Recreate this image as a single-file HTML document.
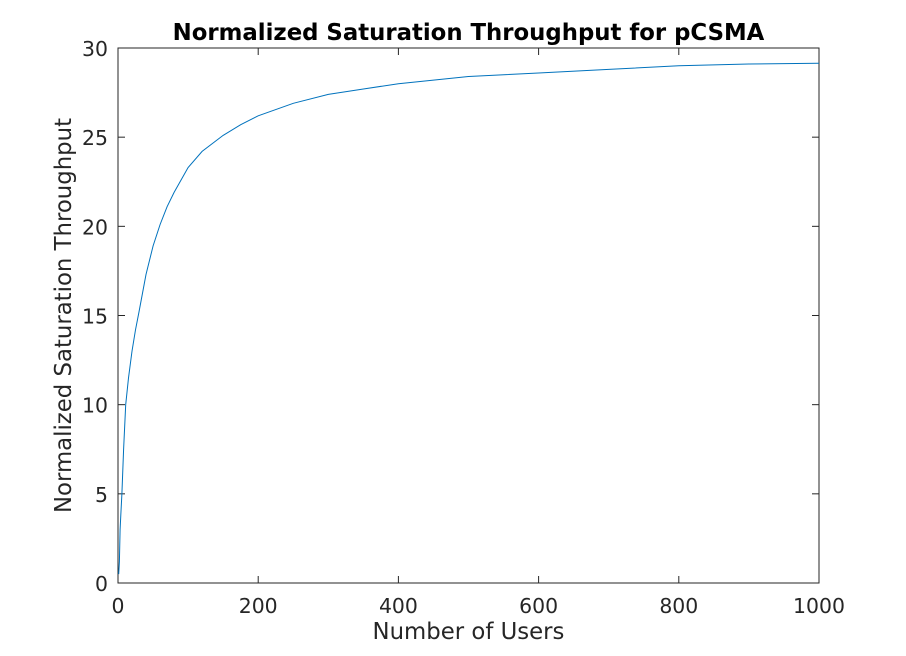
<!DOCTYPE html>
<html><head><meta charset="utf-8"><style>
html,body{margin:0;padding:0;background:#fff;}
svg{display:block;font-family:"DejaVu Sans","Liberation Sans",sans-serif;}
</style></head><body>
<svg id="chart" width="906" height="656">
<rect x="0" y="0" width="906" height="656" fill="#fff"/>
<g id="plot"></g>
</svg>
<script>
const xs = [1,2,3,4,5.5,8,11,15,20,25,30,40,50,60,70,80,100,120,150,175,200,250,300,350,400,500,600,700,800,900,1000];
const ys = [0.5,1.2,3.0,3.8,5.0,7.5,10.0,11.5,13.0,14.2,15.2,17.3,18.9,20.1,21.1,21.9,23.3,24.2,25.1,25.7,26.2,26.9,27.4,27.7,28.0,28.4,28.6,28.8,29.0,29.1,29.15];
const xTicks = [0,200,400,600,800,1000];
const yTicks = [0,5,10,15,20,25,30];
const L=118,R=819,T=48,B=583;
const sx=v=>L+(v-0)/(1000)*(R-L);
const sy=v=>B-(v-0)/30*(B-T);
const NS='http://www.w3.org/2000/svg';
const g=document.getElementById('plot');
function mk(tag,at){const e=document.createElementNS(NS,tag);for(const k in at)e.setAttribute(k,at[k]);g.appendChild(e);return e;}
const bg=mk('rect',{x:L,y:T,width:R-L,height:B-T,fill:'#fff'});


const c='#262626';
xTicks.forEach(t=>{
  const x=sx(t);
  const a=mk('line',{x1:x,y1:B,x2:x,y2:B-7,stroke:c,'stroke-width':1});
  
  
  const b=mk('line',{x1:x,y1:T,x2:x,y2:T+7,stroke:c,'stroke-width':1});
  
  
  const tx=mk('text',{x:x,y:B+30,'text-anchor':'middle','font-size':20.4,fill:c});
  tx.textContent=t;
  
  
});
yTicks.forEach(t=>{
  const y=sy(t);
  const a=mk('line',{x1:L,y1:y,x2:L+7,y2:y,stroke:c,'stroke-width':1});
  
  
  const b=mk('line',{x1:R,y1:y,x2:R-7,y2:y,stroke:c,'stroke-width':1});
  
  
  const tx=mk('text',{x:L-10,y:y+8,'text-anchor':'end','font-size':20.4,fill:c});
  tx.textContent=t;
  
  
});
const box=mk('rect',{x:L,y:T,width:R-L,height:B-T,fill:'none',stroke:c,'stroke-width':1});


const pts=xs.map((x,i)=>sx(x).toFixed(1)+','+sy(ys[i]).toFixed(1)).join(' ');
const line=mk('polyline',{points:pts,fill:'none',stroke:'#0072BD','stroke-width':1});


const ti=mk('text',{x:(L+R)/2,y:40,'text-anchor':'middle','font-size':22.8,'font-weight':'bold',fill:'#000'});
ti.textContent='Normalized Saturation Throughput for pCSMA';


const xl=mk('text',{x:(L+R)/2,y:639,'text-anchor':'middle','font-size':22.8,fill:c});
xl.textContent='Number of Users';


const yl=mk('text',{x:0,y:0,'text-anchor':'middle','font-size':22.8,fill:c,transform:'translate(71,'+((T+B)/2)+') rotate(-90)'});
yl.textContent='Normalized Saturation Throughput';


</script>
</body></html>
